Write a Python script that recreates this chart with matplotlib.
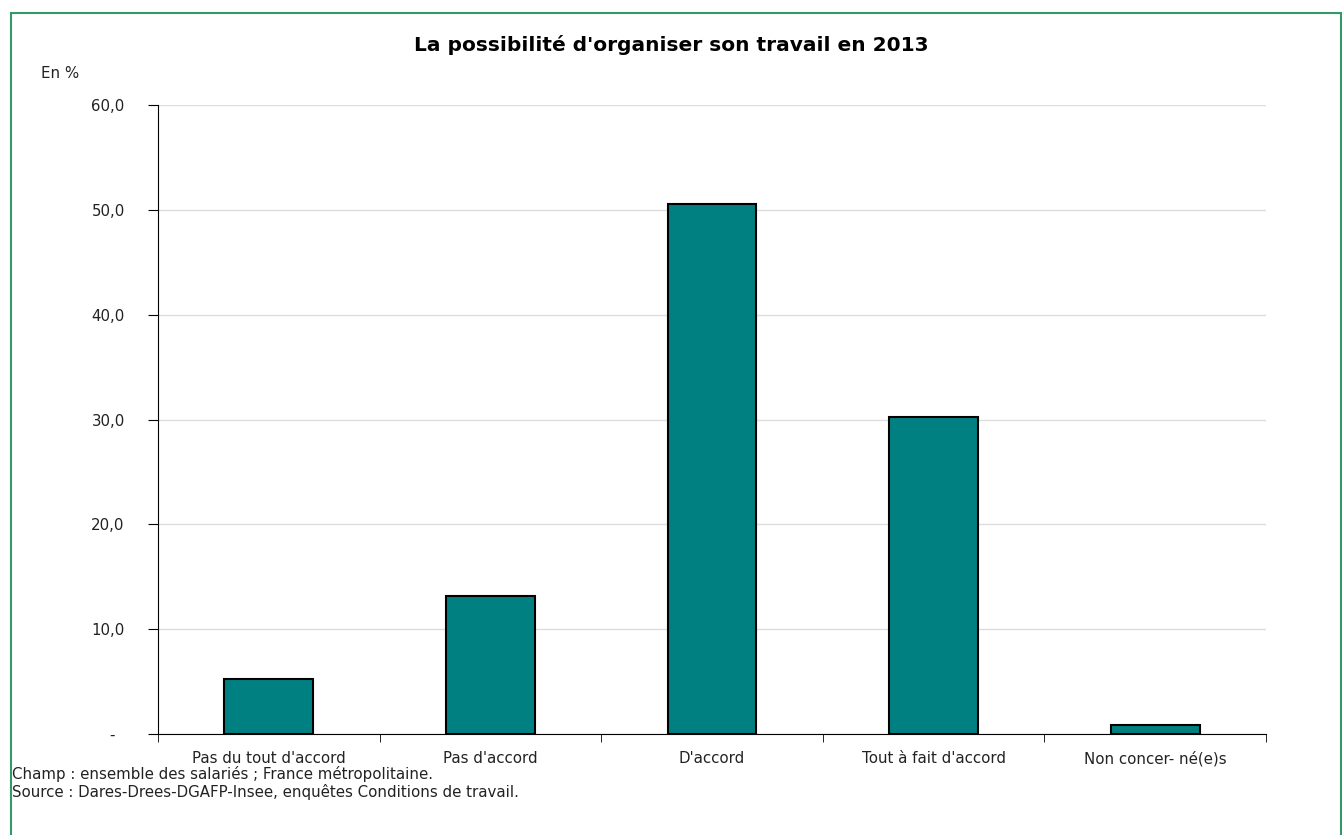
import matplotlib
matplotlib.use("Agg")
import matplotlib.pyplot as plt
import matplotlib.transforms as mtransforms
from matplotlib.patches import Rectangle
import numpy as np

categories = ["Pas du tout d'accord", "Pas d'accord", "D'accord", "Tout à fait d'accord", "Non concer- né(e)s"]
values = [5.2, 13.2, 50.6, 30.2, 0.9]
yticks = [0, 10, 20, 30, 40, 50, 60]
ytick_labels = ["-", "10,0", "20,0", "30,0", "40,0", "50,0", "60,0"]

plt.rcParams['font.family'] = ['DejaVu Sans']

fig = plt.figure(figsize=(13.42, 8.35), dpi=100)
ax = fig.add_axes([158/1342, 1-734/835, (1266-158)/1342, (734-105)/835])

x = np.arange(len(categories))
ax.bar(x, values, width=0.40, color="#008080", edgecolor="black", linewidth=1.5, zorder=3)

ax.set_xlim(-0.5, len(categories) - 0.5)
ax.set_ylim(0, 60)
ax.set_yticks(yticks)
ax.set_yticklabels(ytick_labels, fontsize=10.8, color="#222222")
ax.yaxis.grid(True, color="#dddddd", linewidth=1, zorder=0)
ax.set_xticks(x)
ax.set_xticklabels(categories, fontsize=10.8, color="#222222")
ax.set_xticks(np.arange(-0.5, len(categories)), minor=True)
ax.tick_params(axis='x', which='major', length=0, pad=12)
ax.tick_params(axis='x', which='minor', length=6, color="black", direction='out')
ax.tick_params(axis='y', length=7, color="black", pad=17)
ylabels = ax.get_yticklabels()
for lbl in ylabels:
    lbl.set_horizontalalignment('right')
ylabels[0].set_transform(ylabels[0].get_transform() +
                         mtransforms.ScaledTranslation(-10/100, 0, fig.dpi_scale_trans))
for s in ["top", "right"]:
    ax.spines[s].set_visible(False)
ax.spines["left"].set_color("black")
ax.spines["bottom"].set_color("black")

fig.text(671.5/1342, 1-45/835, "La possibilité d'organiser son travail en 2013",
         ha="center", va="center", fontsize=14.5, fontweight="bold")
fig.text(41/1342, 1-73/835, "En %", ha="left", va="center", fontsize=10.8, color="#222222")
fig.text(12/1342, 1-774/835, "Champ : ensemble des salariés ; France métropolitaine.",
         ha="left", va="center", fontsize=10.8, color="#222222")
fig.text(12/1342, 1-792/835, "Source : Dares-Drees-DGAFP-Insee, enquêtes Conditions de travail.",
         ha="left", va="center", fontsize=10.8, color="#222222")

border = Rectangle((11/1342, -0.01), (1341-11)/1342, 1-13/835 + 0.01, transform=fig.transFigure,
                   fill=False, edgecolor="#339966", linewidth=1.5)
fig.patches.append(border)

fig.savefig("out.png", dpi=100)
